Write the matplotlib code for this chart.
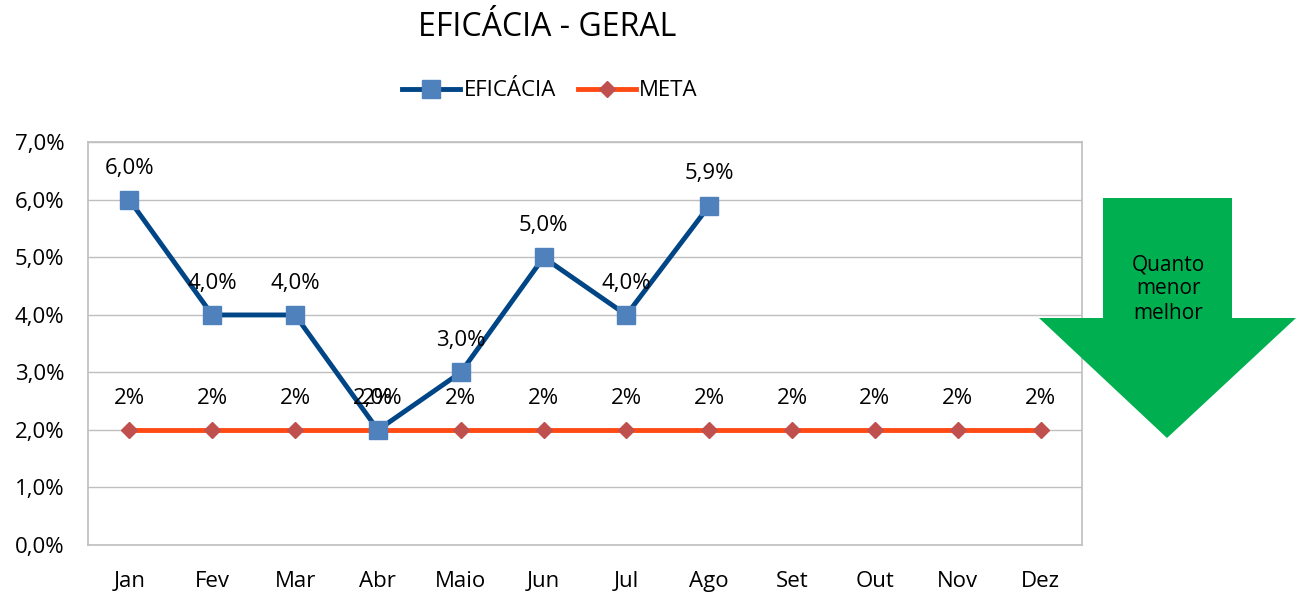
import matplotlib
matplotlib.use("Agg")
import matplotlib.pyplot as plt
from matplotlib.patches import Polygon
from matplotlib.lines import Line2D

months = ["Jan", "Fev", "Mar", "Abr", "Maio", "Jun", "Jul", "Ago", "Set", "Out", "Nov", "Dez"]
eficacia = [6.0, 4.0, 4.0, 2.0, 3.0, 5.0, 4.0, 5.9]
meta = [2.0] * 12
yticks = [0, 1, 2, 3, 4, 5, 6, 7]

plt.rcParams['font.family'] = ['Open Sans', 'DejaVu Sans']

fig = plt.figure(figsize=(13.02, 5.96), dpi=100)
ax = fig.add_axes([0.0676, 0.0856, 0.7634, 0.6754])

x_all = list(range(len(months)))
x_ef = list(range(len(eficacia)))

ax.plot(x_all, meta, color="#FF4A14", lw=3.5, marker="D", ms=8,
        mfc="#C0504D", mec="#C0504D", zorder=3)
ax.plot(x_ef, eficacia, color="#004586", lw=3.5, marker="s", ms=13,
        mfc="#4F81BD", mec="#4F81BD", zorder=4)

for xi, v in zip(x_all, meta):
    ax.annotate(f"{v:.0f}%", (xi, v), xytext=(0, 23), textcoords="offset points",
                ha="center", va="center", fontsize=16, zorder=5)
for xi, v in zip(x_ef, eficacia):
    ax.annotate(f"{v:.1f}%".replace(".", ","), (xi, v), xytext=(0, 23),
                textcoords="offset points", ha="center", va="center", fontsize=16, zorder=5)

ax.set_xlim(-0.5, len(months) - 0.5)
ax.set_ylim(0, 7)
ax.set_xticks(x_all)
ax.set_xticklabels(months, fontsize=16)
ax.set_yticks(yticks)
ax.set_yticklabels([f"{t:.1f}%".replace(".", ",") for t in yticks], fontsize=16)
ax.tick_params(length=0)
ax.tick_params(axis="y", pad=17)
ax.tick_params(axis="x", pad=19)
ax.grid(axis="y", color="#BFBFBF", lw=1)
ax.set_axisbelow(True)
for s in ax.spines.values():
    s.set_color("#BFBFBF")
    s.set_linewidth(1.2)

fig.text(547 / 1302, 1 - 27 / 596, "EFICÁCIA - GERAL", ha="center", va="center", fontsize=23)

handles = [
    Line2D([], [], color="#004586", lw=3.5, marker="s", ms=13, mfc="#4F81BD", mec="#4F81BD"),
    Line2D([], [], color="#FF4A14", lw=3.5, marker="D", ms=8, mfc="#C0504D", mec="#C0504D"),
]
fig.legend(handles, ["EFICÁCIA", "META"], loc="center", bbox_to_anchor=(550 / 1302, 1 - 91 / 596),
           ncol=2, frameon=False, fontsize=16, handlelength=2.6, columnspacing=1.0, handletextpad=0.15)

W, H = 1302, 596
pts = [(1103, 198), (1232, 198), (1232, 318), (1296, 318), (1167, 438), (1039, 318), (1103, 318)]
arrow = Polygon([(px / W, 1 - py / H) for px, py in pts], closed=True,
                transform=fig.transFigure, facecolor="#00B050", edgecolor="none")
fig.patches.append(arrow)
fig.text(1168 / W, 1 - 289 / H, "Quanto\nmenor\nmelhor", ha="center", va="center",
         fontsize=15, linespacing=1.2)

fig.savefig("out.png", dpi=100)
